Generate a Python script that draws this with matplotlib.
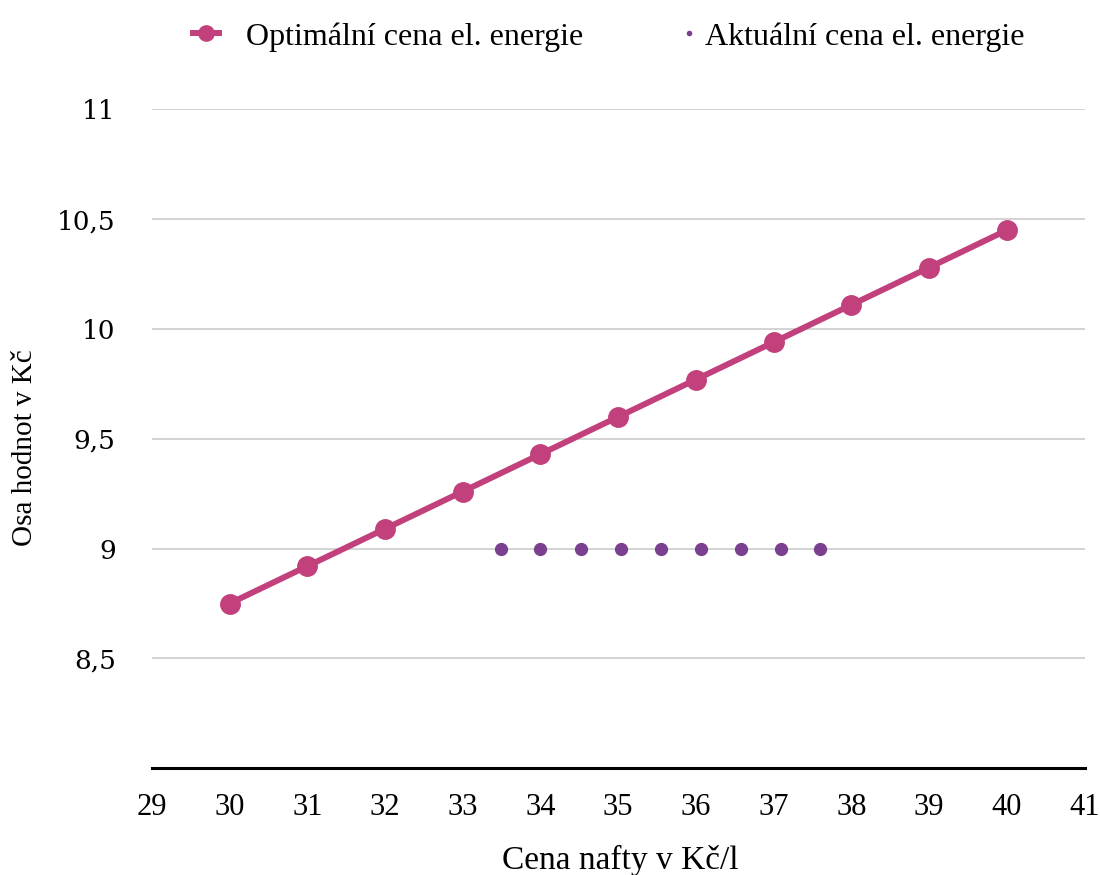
import matplotlib.pyplot as plt
from matplotlib.ticker import FuncFormatter

# Optimal electricity price vs diesel price
diesel_price = [30, 31, 32, 33, 34, 35, 36, 37, 38, 39, 40]
optimal_price = [8.75, 8.92, 9.09, 9.26, 9.43, 9.60, 9.77, 9.94, 10.11, 10.28, 10.45]

# Current electricity price (flat)
current_x = [33.49, 34.0, 34.52, 35.03, 35.55, 36.06, 36.58, 37.09, 37.6]
current_y = [9, 9, 9, 9, 9, 9, 9, 9, 9]

x_ticks = list(range(29, 42))
y_ticks = [8.5, 9, 9.5, 10, 10.5, 11]

plt.rcParams["font.family"] = ["Liberation Serif", "DejaVu Serif"]

fig = plt.figure(figsize=(11, 8.75), dpi=100)
ax = fig.add_axes([0.138, 0.122, 0.848, 0.753])

line_opt, = ax.plot(diesel_price, optimal_price, color="#c2407c", linewidth=4.3,
                    marker="o", markersize=14, label="Optimální cena el. energie",
                    zorder=3)
pts_cur, = ax.plot(current_x, current_y, linestyle="none", color="#7b3f8f",
                   marker="o", markersize=8.5, label="Aktuální cena el. energie",
                   zorder=3)

ax.set_xlim(29, 41)
ax.set_ylim(8, 11)
ax.set_xticks(x_ticks)
ax.set_yticks(y_ticks)
ax.yaxis.set_major_formatter(
    FuncFormatter(lambda v, pos: ("%g" % v).replace(".", ",")))

ax.grid(axis="y", color="#c8c8c8", linewidth=1.1)
ax.set_axisbelow(True)
for side in ["top", "right", "left"]:
    ax.spines[side].set_visible(False)
ax.spines["bottom"].set_linewidth(2.2)
ax.spines["bottom"].set_color("black")

ax.tick_params(axis="x", length=0, pad=18, labelsize=22)
ax.tick_params(axis="y", length=0, pad=26, labelsize=19,
               labelfontfamily="DejaVu Serif")

ax.set_xlabel("Cena nafty v Kč/l", fontsize=24, va="top")
ax.xaxis.set_label_coords(0.502, -0.117)
ax.set_ylabel("Osa hodnot v Kč", fontsize=21, va="top")
ax.yaxis.set_label_coords(-0.150, 0.486)

# two legend entries, placed separately like in the original
leg1 = fig.legend(handles=[line_opt], loc="center left", frameon=False,
                  fontsize=23, bbox_to_anchor=(0.1755, 0.958), borderpad=0,
                  borderaxespad=0, handlelength=0.8, handletextpad=0.85)
leg1.legend_handles[0].set_markersize(11)
leg2 = fig.legend(handles=[pts_cur], loc="center left", frameon=False,
                  fontsize=23, bbox_to_anchor=(0.621, 0.958), borderpad=0,
                  borderaxespad=0, handlelength=0.4, handletextpad=0.27)
leg2.legend_handles[0].set_markersize(3)

fig.savefig("out.png", dpi=100)
